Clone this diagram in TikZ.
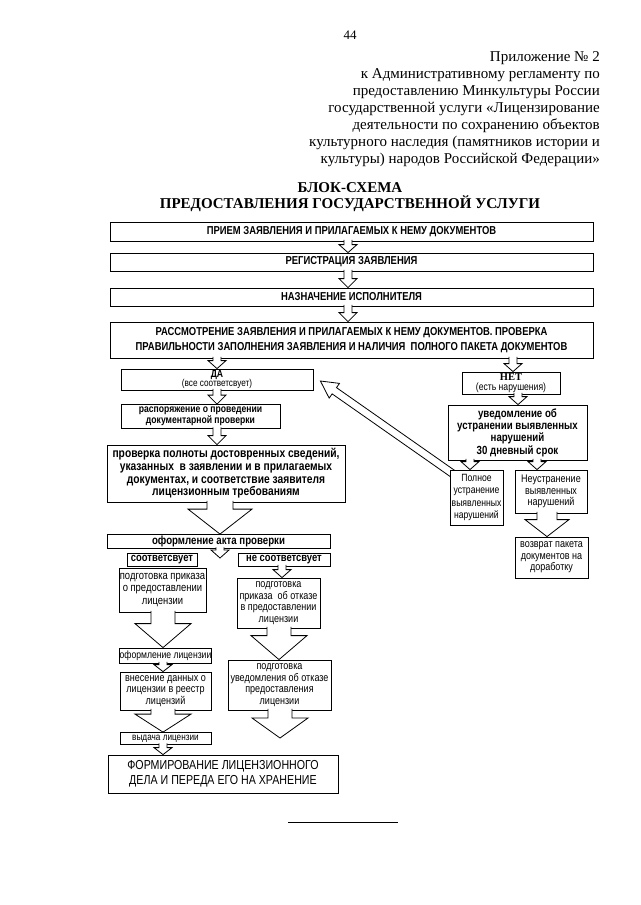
\documentclass[tikz,border=0pt]{standalone}
\usepackage{fontspec}
\setmainfont{Liberation Serif}
\newfontfamily\nar[FakeStretch=0.82]{Liberation Sans}
\usetikzlibrary{calc,backgrounds}
\tikzset{
  box/.style={draw, fill=white, line width=0.8pt, inner sep=0pt, align=center},
  capsf/.style={font=\nar\bfseries\fontsize{11.5}{15}\selectfont},
  bf/.style={font=\nar\bfseries\fontsize{10.5}{11.3}\selectfont},
  rg/.style={font=\nar\fontsize{11}{11.6}\selectfont},
  arr/.style={draw, fill=white, line width=0.8pt, line join=miter},
}
% block arrow: #1 x, #2 from node, #3 to point, #4 stem half, #5 head half, #6 head length
\newcommand\blk[6]{%
  \draw[arr] let \p1=(#2.south), \p2=(#3) in
  (#1pt-#4pt,\y1+1.5pt) -- (#1pt-#4pt,\y2+#6pt) -- (#1pt-#5pt,\y2+#6pt) --
  (#1pt,\y2) -- (#1pt+#5pt,\y2+#6pt) -- (#1pt+#4pt,\y2+#6pt) -- (#1pt+#4pt,\y1+1.5pt);
}
\begin{document}
\begin{tikzpicture}[x=1pt,y=-1pt]
\useasboundingbox (0,0) rectangle (640,905);
\begin{pgfonlayer}{background}
\fill[white] (0,0) rectangle (640,905);
\end{pgfonlayer}

\node[font=\fontsize{13}{15}\selectfont, inner sep=0] (pg) at (350,35) {44};
\node[anchor=north east, align=right, font=\fontsize{15}{17}\selectfont, inner sep=0] (hdr) at (600,51)
  {Приложение № 2\\к Административному регламенту по\\предоставлению Минкультуры России\\государственной услуги «Лицензирование\\деятельности по сохранению объектов\\культурного наследия (памятников истории и\\культуры) народов Российской Федерации»};
\node[font=\bfseries\fontsize{15}{16.5}\selectfont, align=center, inner sep=0] (ttl) at (350,197)
  {БЛОК-СХЕМА\\ПРЕДОСТАВЛЕНИЯ ГОСУДАРСТВЕННОЙ УСЛУГИ};

\node[box, capsf, minimum width=483pt, minimum height=19pt] (b1) at (351.5,231.5) {ПРИЕМ ЗАЯВЛЕНИЯ И ПРИЛАГАЕМЫХ К НЕМУ ДОКУМЕНТОВ};
\node[box, capsf, minimum width=483pt, minimum height=18pt] (b2) at (351.5,262) {РЕГИСТРАЦИЯ ЗАЯВЛЕНИЯ};
\node[box, capsf, minimum width=483pt, minimum height=18pt] (b3) at (351.5,297) {НАЗНАЧЕНИЕ ИСПОЛНИТЕЛЯ};
\node[box, capsf, minimum width=483pt, minimum height=36pt] (b4) at (351.5,340) {РАССМОТРЕНИЕ ЗАЯВЛЕНИЯ И ПРИЛАГАЕМЫХ К НЕМУ ДОКУМЕНТОВ. ПРОВЕРКА\\ПРАВИЛЬНОСТИ ЗАПОЛНЕНИЯ ЗАЯВЛЕНИЯ И НАЛИЧИЯ~ ПОЛНОГО ПАКЕТА ДОКУМЕНТОВ};

\node[box, bf, minimum width=192pt, minimum height=21pt] (da) at (217,379.5) {ДА\\[-1.5pt]{\mdseries\fontsize{10}{10}\selectfont(все соответсвует)}};
\node[box, bf, minimum width=159pt, minimum height=24pt] (rasp) at (200.5,416.5) {распоряжение о проведении\\документарной проверки};
\node[box, bf, font=\nar\bfseries\fontsize{12.5}{12.6}\selectfont, minimum width=238pt, minimum height=57pt] (prov) at (226,473.5) {проверка полноты достовренных сведений,\\указанных~ в заявлении и в прилагаемых\\документах, и соответствие заявителя\\лицензионным требованиям};
\node[box, bf, font=\nar\bfseries\fontsize{11.8}{12}\selectfont, minimum width=223pt, minimum height=14pt] (akta) at (218.5,541.5) {оформление акта проверки};
\node[box, bf, font=\nar\bfseries\fontsize{11.5}{12}\selectfont, minimum width=70pt, minimum height=13pt] (sootv) at (162,559.5) {соответсвует};
\node[box, bf, font=\nar\bfseries\fontsize{11.5}{12}\selectfont, minimum width=92pt, minimum height=13pt] (nesootv) at (284,559.5) {не соответсвует};
\node[box, rg, font=\nar\fontsize{11.5}{12.4}\selectfont, minimum width=87pt, minimum height=44pt] (podg1) at (162.5,590) {подготовка приказа\\о предоставлении\\лицензии};
\node[box, rg, font=\nar\fontsize{10.5}{11}\selectfont, minimum width=91pt, minimum height=15pt] (oflic) at (165.5,655.5) {оформление лицензии};
\node[box, rg, minimum width=91pt, minimum height=38pt] (vnes) at (165.5,691) {внесение данных о\\лицензии в реестр\\лицензий};
\node[box, rg, font=\nar\fontsize{10}{10}\selectfont, minimum width=91pt, minimum height=12pt] (vyd) at (165.5,738.5) {выдача лицензии};
\node[box, font=\nar\fontsize{13}{15}\selectfont, minimum width=230pt, minimum height=38pt] (form) at (223,774) {ФОРМИРОВАНИЕ ЛИЦЕНЗИОННОГО\\ДЕЛА И ПЕРЕДА ЕГО НА ХРАНЕНИЕ};
\node[box, rg, minimum width=83pt, minimum height=50pt] (otkaz) at (278.5,603) {подготовка\\приказа~ об отказе\\в предоставлении\\лицензии};
\node[box, rg, minimum width=103pt, minimum height=50pt] (uved2) at (279.5,685) {подготовка\\уведомления об отказе\\предоставления\\лицензии};

\node[box, rg, minimum width=98pt, minimum height=22pt] (net) at (511,383) {{\rmfamily\bfseries\fontsize{10.5}{11}\selectfont НЕТ}\\[-2pt]{\fontsize{10.5}{10}\selectfont(есть нарушения)}};
\node[box, bf, font=\nar\bfseries\fontsize{11.8}{12.3}\selectfont, minimum width=139pt, minimum height=55pt] (uved) at (517.5,432.5) {уведомление об\\устранении выявленных\\нарушений\\30 дневный срок};
\node[box, rg, font=\nar\fontsize{10.5}{12.6}\selectfont, minimum width=53pt, minimum height=55pt] (poln) at (476.5,497.5) {Полное\\устранение\\выявленных\\нарушений};
\node[box, rg, minimum width=72pt, minimum height=43pt] (neustr) at (551,491.5) {Неустранение\\выявленных\\нарушений};
\node[box, rg, minimum width=73pt, minimum height=41pt] (vozvr) at (551.5,557.5) {возврат пакета\\документов на\\доработку};

\coordinate (akend) at (220,558);
\coordinate (u2end) at (280,738);

\blk{348}{b1}{b2.north}{4}{9}{8}
\blk{348}{b2}{b3.north}{4}{9}{9}
\blk{348}{b3}{b4.north}{4}{9}{9}
\blk{217}{b4}{da.north}{4}{9}{8}
\blk{513}{b4}{net.north}{4}{9}{8}
\blk{217}{da}{rasp.north}{4}{9}{9}
\blk{217}{rasp}{prov.north}{4}{9}{9}
\blk{220}{prov}{akta.north}{13}{32}{25}
\blk{220}{akta}{akend}{4}{9}{8}
\blk{282}{nesootv}{otkaz.north}{4}{9}{8}
\blk{163}{podg1}{oflic.north}{12}{28}{24}
\blk{163}{oflic}{vnes.north}{4}{9}{7}
\blk{163}{vnes}{vyd.north}{12}{28}{18}
\blk{163}{vyd}{form.north}{4}{9}{7}
\blk{279}{otkaz}{uved2.north}{12}{28}{24}
\blk{280}{uved2}{u2end}{12}{28}{20}
\blk{518}{net}{uved.north}{4}{9}{8}
\blk{470}{uved}{poln.north}{4}{9}{8}
\blk{537}{uved}{neustr.north}{4}{9}{8}
\blk{547}{neustr}{vozvr.north}{10}{22}{17}

% diagonal return arrow
\coordinate (tipc) at ($(da.east)+(7,1.5)$);
\coordinate (tailc) at ($(poln.north west)+(3,4)$);
\path let \p1=(tipc), \p2=(tailc) in \pgfextra{%
  \pgfmathsetmacro\tmpa{atan2(\y2-\y1,\x2-\x1)}\global\let\dang\tmpa
  \pgfmathsetmacro\tmpb{veclen(\x2-\x1,\y2-\y1)}\global\let\dlen\tmpb};
\begin{pgfonlayer}{background}
\begin{scope}[shift={(tipc)}, rotate=\dang]
\draw[arr] (0pt,0pt) -- (17pt,9pt) -- (17pt,3.8pt) -- (\dlen pt,3.8pt) -- (\dlen pt,-3.8pt) -- (17pt,-3.8pt) -- (17pt,-9pt) -- cycle;
\end{scope}
\end{pgfonlayer}

\draw[line width=0.6pt] (288,822) -- (398,822);
\end{tikzpicture}
\end{document}
